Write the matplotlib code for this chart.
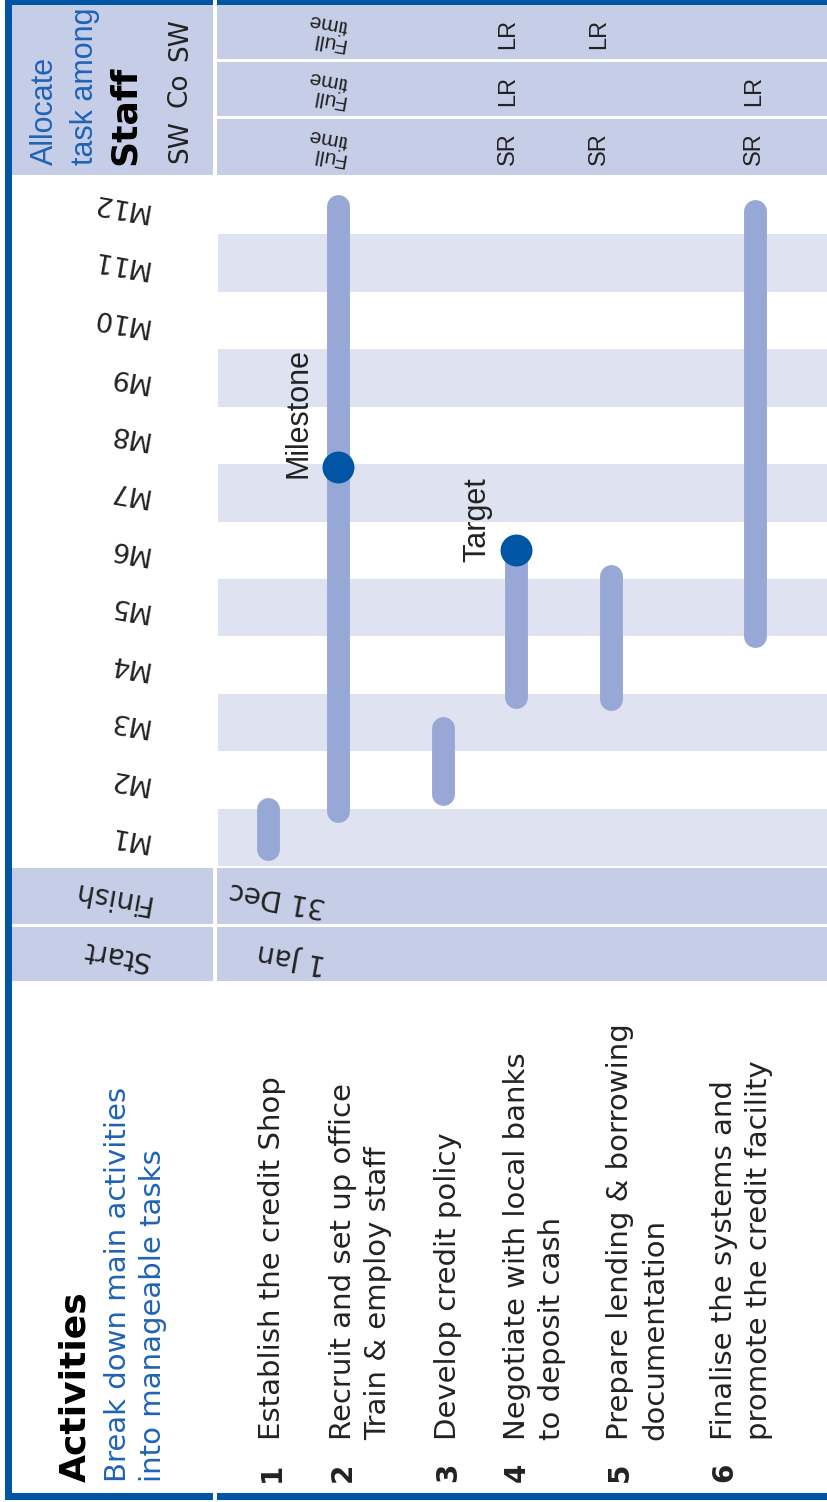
import matplotlib.pyplot as plt
from matplotlib.patches import Rectangle

# ---- data ----
months = ['M1', 'M2', 'M3', 'M4', 'M5', 'M6', 'M7', 'M8', 'M9', 'M10', 'M11', 'M12']
task_lines = [
    ['Establish the credit Shop'],
    ['Recruit and set up office', 'Train & employ staff'],
    ['Develop credit policy'],
    ['Negotiate with local banks', 'to deposit cash'],
    ['Prepare lending & borrowing', 'documentation'],
    ['Finalise the systems and', 'promote the credit facility'],
]
# visual extent of each bar in months (M1 = 0..1)
task_start = [0.1, 0.75, 1.05, 2.75, 2.7, 3.8]
task_end = [1.2, 11.7, 2.6, 5.5, 5.25, 11.6]
milestone_task = [1, 3]
milestone_month = [6.95, 5.5]
milestone_text = ['Milestone', 'Target']
staff_roles = ['SW', 'Co', 'SW']
staff_hours = ['Full\ntime', 'Full\ntime', 'Full\ntime']
alloc_sw1 = ['', '', '', 'SR', 'SR', 'SR']
alloc_co = ['', '', '', 'LR', '', 'LR']
alloc_sw2 = ['', '', '', 'LR', 'LR', '']
start_date = '1 Jan'
finish_date = '31 Dec'

# ---- layout (pixels) and colours ----
W, H = 828, 1502
chart_top, chart_bot = 177, 866
sep_x = 215
task_x = [268, 338, 443, 516, 611, 755]
alloc_x = [268, 338, 443, 508, 599, 754]
item_x = [272, 343, 448, 517, 620, 724]
staff_bands = [(119, 175), (62, 116), (5, 59)]   # SW, Co, SW
role_y = [142, 90, 40]
tilt = 170   # the upside-down labels are slightly skewed
blue = '#0055a5'
txt_blue = '#1f63b5'
head_c = '#c6cee7'
stripe_c = '#dfe3f1'
bar_c = '#98a8d6'
dark = '#222222'

fig = plt.figure(figsize=(W / 100, H / 100), dpi=100)
bg = fig.add_axes([0, 0, 1, 1])
bg.set_xlim(0, W)
bg.set_ylim(H, 0)
bg.axis('off')

def box(x0, y0, x1, y1, c, z=1):
    bg.add_patch(Rectangle((x0, y0), x1 - x0, y1 - y0, color=c, lw=0, zorder=z))

# header / start-finish bands
box(12, 5, sep_x, 175, head_c)
for y0, y1 in staff_bands:
    box(sep_x, y0, W, y1, head_c)
box(12, 868, W, 924, head_c)
box(12, 927, W, 981, head_c)
# borders
box(5, 0, W, 5, blue, 2)
box(5, 0, 12, 1500, blue, 2)
box(5, 1493, W, 1500, blue, 2)
box(sep_x - 2, 0, sep_x + 2, H, 'white', 3)

# header text
bg.text(45, 165, 'Allocate', rotation=90, ha='center', va='bottom', color=txt_blue,
        fontsize=22, family='Liberation Sans')
bg.text(85, 165, 'task among', rotation=90, ha='center', va='bottom', color=txt_blue,
        fontsize=22, family='Liberation Sans')
bg.text(125, 165, 'Staff', rotation=90, ha='center', va='bottom', color='black',
        fontsize=26, weight='bold')
for role, y, (y0, y1), hrs in zip(staff_roles, role_y, staff_bands, staff_hours):
    bg.text(180, y, role, rotation=90, ha='center', va='center', color=dark, fontsize=19)
    bg.text(327, (y0 + y1) / 2, hrs, rotation=tilt, ha='center', va='center', color=dark,
            fontsize=15, family='Liberation Sans', linespacing=0.95, multialignment='left')
for alloc, (y0, y1) in zip([alloc_sw1, alloc_co, alloc_sw2], staff_bands):
    for x, a in zip(alloc_x, alloc):
        if a:
            bg.text(x, (y0 + y1) / 2 + 2, a, rotation=90, ha='center', va='center',
                    color=dark, fontsize=17, family='Liberation Sans')

# start / finish
bg.text(111, 897, 'Finish', rotation=tilt, ha='center', va='center', color=dark, fontsize=20)
bg.text(115, 955, 'Start', rotation=tilt, ha='center', va='center', color=dark, fontsize=20)
bg.text(328, 898, finish_date, rotation=tilt, ha='right', va='center', color=dark, fontsize=20)
bg.text(328, 958, start_date, rotation=tilt, ha='right', va='center', color=dark, fontsize=20)

# activities
bg.text(75, 1482, 'Activities', rotation=90, ha='center', va='bottom', color='black',
        fontsize=26, weight='bold')
bg.text(118, 1482, 'Break down main activities', rotation=90, ha='center', va='bottom',
        color=txt_blue, fontsize=21)
bg.text(153, 1482, 'into manageable tasks', rotation=90, ha='center', va='bottom',
        color=txt_blue, fontsize=21)
for i, (x, lines) in enumerate(zip(item_x, task_lines)):
    bg.text(x, 1482, str(i + 1), rotation=90, ha='center', va='bottom', color=dark,
            fontsize=20, weight='bold')
    for j, line in enumerate(lines):
        bg.text(x + 35 * j, 1440, line, rotation=90, ha='center', va='bottom',
                color=dark, fontsize=21)

# ---- gantt axes ----
ax = fig.add_axes([12 / W, (H - chart_bot) / H, (W - 12) / W, (chart_bot - chart_top) / H])
ax.set_xlim(12, W)
ax.set_ylim(0, 12)
ax.axis('off')

shaded = list(range(0, 12, 2))
ax.barh([m + 0.5 for m in shaded], W - sep_x - 3, left=sep_x + 3, height=1,
        color=stripe_c, lw=0, zorder=0)
for i, m in enumerate(months):
    ax.text(150, i + 0.5, m, rotation=tilt, ha='right', va='center', color=dark,
            fontsize=19.5)

month_px = (chart_bot - chart_top) / 12
r = 11.5 / month_px
for x, s, e in zip(task_x, task_start, task_end):
    ax.plot([x, x], [s + r, e - r], color=bar_c, lw=16.5, solid_capstyle='round', zorder=2)
for t, m, lab in zip(milestone_task, milestone_month, milestone_text):
    ax.plot(task_x[t], m, 'o', ms=23, color=blue, mec='none', zorder=3)
    ax.text(task_x[t] - 39, m - 0.2, lab, rotation=90, ha='center', va='bottom',
            color=dark, fontsize=22, family='Liberation Sans')

fig.savefig('out.png', dpi=100)
